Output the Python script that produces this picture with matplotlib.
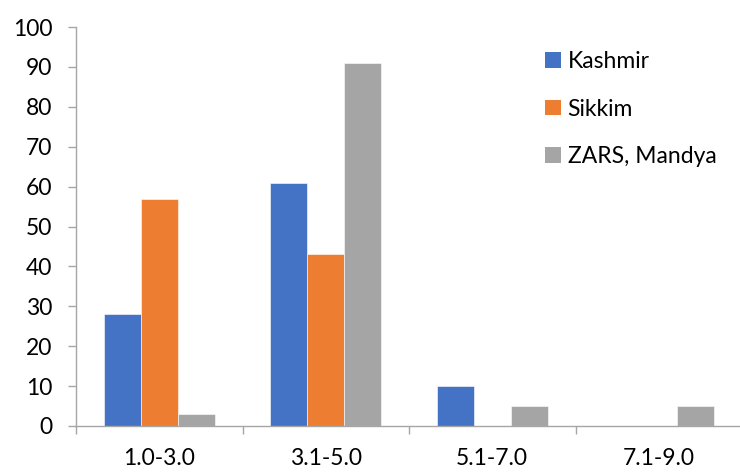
import numpy as np
import matplotlib.pyplot as plt
from matplotlib.patches import Patch

plt.rcParams['font.family'] = ['Lato', 'DejaVu Sans']

categories = ['1.0-3.0', '3.1-5.0', '5.1-7.0', '7.1-9.0']
kashmir = [28, 61, 10, 0]
sikkim = [57, 43, 0, 0]
zars = [3, 91, 5, 5]
series_names = ['Kashmir', 'Sikkim', 'ZARS, Mandya']
colors = ['#4472C4', '#ED7D31', '#A5A5A5']
axis_grey = '#A6A6A6'

fig = plt.figure(figsize=(7.4, 4.72), dpi=100)
ax = fig.add_axes([76 / 740, 46 / 472, 666 / 740, 399 / 472])

x = np.arange(len(categories))
width = 0.222
for i, (vals, c) in enumerate(zip([kashmir, sikkim, zars], colors)):
    ax.bar(x + (i - 1) * width, vals, width, color=c, edgecolor='white',
           linewidth=0.4, label=series_names[i])

ax.set_xlim(-0.5, len(categories) - 0.5)
ax.set_ylim(0, 100)
ax.set_yticks(np.arange(0, 101, 10))
ax.set_xticks(x)
ax.set_xticklabels(categories)
ax.set_xticks(np.arange(len(categories) + 1) - 0.5, minor=True)

for s in ['top', 'right']:
    ax.spines[s].set_visible(False)
for s in ['left', 'bottom']:
    ax.spines[s].set_color(axis_grey)
    ax.spines[s].set_linewidth(1.0)

ax.tick_params(axis='y', length=6, width=1.0, color=axis_grey, pad=11,
               labelsize=16.5)
ax.tick_params(axis='x', which='major', length=0, pad=16, labelsize=16.5)
ax.tick_params(axis='x', which='minor', length=6, width=1.0, color=axis_grey)

handles = [Patch(facecolor=c, edgecolor='none') for c in colors]
ax.legend(handles, series_names, loc='upper left',
          bbox_to_anchor=(536 / 740, 1 - 42 / 472), bbox_transform=fig.transFigure,
          frameon=False, fontsize=16.5, handlelength=0.68, handleheight=0.68,
          handletextpad=0.3, labelspacing=1.15, borderaxespad=0)

fig.savefig('out.png', dpi=100)
